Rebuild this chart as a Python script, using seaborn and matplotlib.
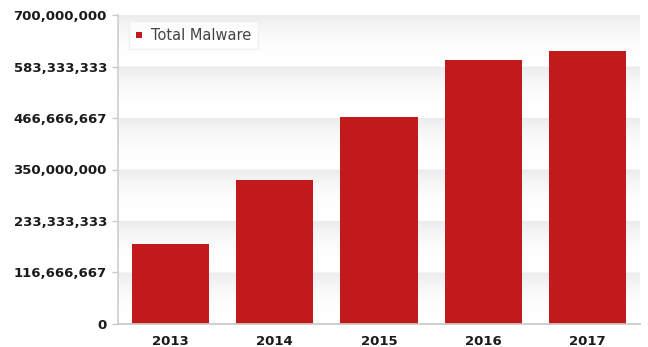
import numpy as np
import matplotlib
matplotlib.use("Agg")
import matplotlib.pyplot as plt
import seaborn as sns
import pandas as pd

# chart data
years = ["2013", "2014", "2015", "2016", "2017"]
total_malware = [181_000_000, 326_000_000, 470_000_000, 597_000_000, 619_000_000]
y_ticks = [0, 116_666_667, 233_333_333, 350_000_000, 466_666_667, 583_333_333, 700_000_000]

BAR_RED = "#c21a1b"

df = pd.DataFrame({"Year": years, "Total Malware": total_malware})

sns.set_theme(style="white")
plt.rcParams["font.family"] = ["DejaVu Sans"]

fig = plt.figure(figsize=(6.48, 3.47), dpi=100)
ax = fig.add_axes([118 / 648, 1 - 324 / 347, (640 - 118) / 648, (324 - 15) / 347])

# soft banded background: each band fades from light grey at its top edge to white
n_bands = len(y_ticks) - 1
grad = np.linspace(1.0, 0.0, 40) ** 2.5
bg = np.concatenate([grad for _ in range(n_bands)])[:, None]
ax.imshow(bg, extent=(-0.5, 4.5, 0, y_ticks[-1]), aspect="auto", origin="upper",
          cmap=matplotlib.colors.LinearSegmentedColormap.from_list("bg", ["#ffffff", "#ececef"]),
          zorder=0, vmin=0, vmax=1)

sns.barplot(data=df, x="Year", y="Total Malware", color=BAR_RED, saturation=1,
            width=0.74, linewidth=0, ax=ax, zorder=2, label="Total Malware")

ax.set_xlim(-0.5, 4.5)
ax.set_ylim(0, y_ticks[-1])
ax.set_yticks(y_ticks)
ax.set_yticklabels([f"{v:,}" for v in y_ticks])
ax.set_xlabel("")
ax.set_ylabel("")

for lab in ax.get_yticklabels() + ax.get_xticklabels():
    lab.set_fontweight("bold")
    lab.set_fontsize(9.5)
    lab.set_color("#1a1a1a")

ax.tick_params(axis="y", left=True, length=4, width=1, color="#c8c8c8", pad=4)
ax.tick_params(axis="x", bottom=False, pad=2)

for side in ["top", "right"]:
    ax.spines[side].set_visible(False)
ax.spines["left"].set_color("#d0d0d0")
ax.spines["bottom"].set_color("#c8c8c8")

leg = ax.legend(loc="upper left", bbox_to_anchor=(0.022, 0.98), borderaxespad=0,
                frameon=True, fontsize=10.5, handlelength=0.45, handleheight=0.45,
                handletextpad=0.6, borderpad=0.45, fancybox=False, labelcolor="#444444")
leg.get_frame().set_edgecolor("#eeeeee")
leg.get_frame().set_facecolor("white")
for h in leg.legend_handles:
    h.set_height(4.5)
    h.set_width(4.5)

plt.savefig("out.png", dpi=100)
